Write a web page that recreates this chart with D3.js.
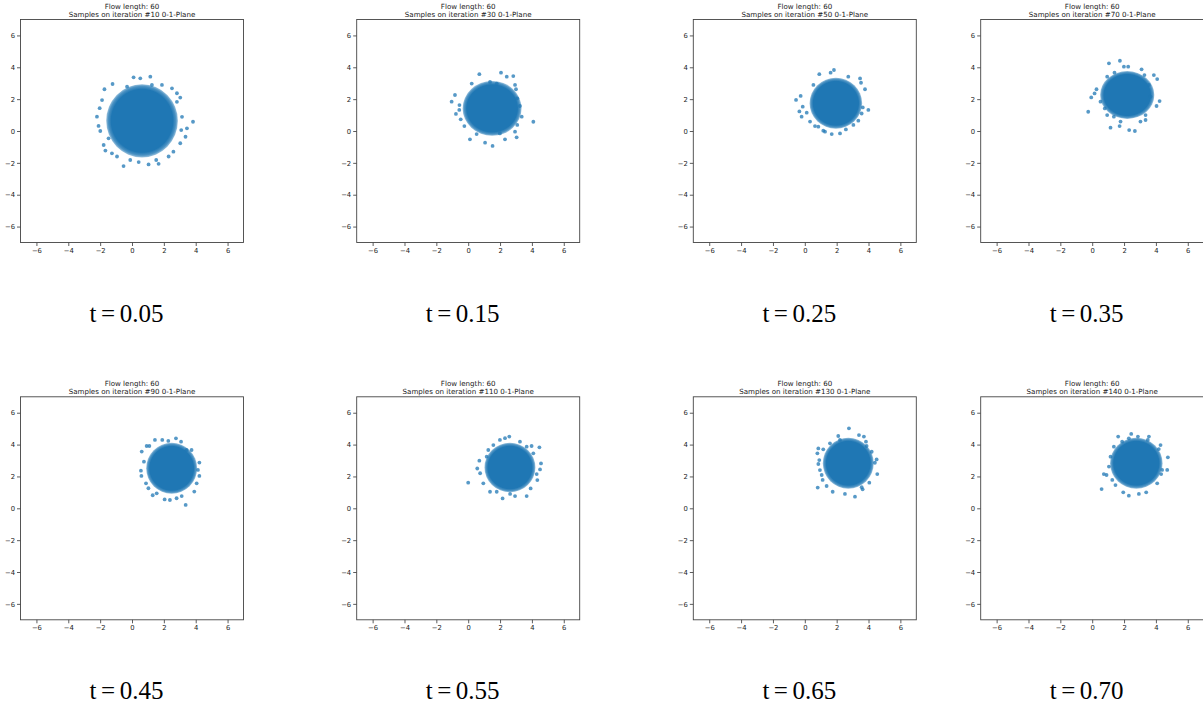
<!DOCTYPE html>
<html>
<head>
<meta charset="utf-8">
<script src="https://cdn.jsdelivr.net/npm/d3@7"></script>
<style>
  body { margin: 0; background: #fff; }
  svg { display: block; }
</style>
</head>
<body>
<div id="grafico"></div>
<script>
// valores
const flowLength = 60;
const iteraciones = [10, 30, 50, 70, 90, 110, 130, 140];
const tValores = ["0.05", "0.15", "0.25", "0.35", "0.45", "0.55", "0.65", "0.70"];
const ticks = [-6, -4, -2, 0, 2, 4, 6];
const dominio = [-7, 7];

// zona densa de cada nube (centro y radios exteriores, en unidades de datos)
const nucleoX = [0.63, 1.50, 1.95, 2.20, 2.49, 2.62, 2.73, 2.77];
const nucleoY = [0.64, 1.42, 1.74, 2.26, 2.51, 2.56, 2.83, 2.83];
const radioX  = [2.25, 1.85, 1.65, 1.70, 1.60, 1.60, 1.60, 1.65];
const radioY  = [2.30, 1.72, 1.60, 1.50, 1.60, 1.55, 1.60, 1.60];

// muestras sueltas del borde, leidas punto por punto
const muestras10 = [[-0.53,-2.2],[1.15,3.41],[0.1,3.37],[-1.22,2.95],[-1.73,2.62],[3.83,0.58],[-2.2,0.9],[-2.03,1.43],[-1.88,1.94],[3.36,-0.36],[3.09,0.06],[3.14,0.89],[1.67,-2.06],[1.04,-2.1],[0.42,-1.95],[-0.94,-1.6],[-1.67,-1.23],[-1.99,0.0],[-2.1,0.32],[2.51,2.68],[1.88,2.89],[2.82,1.83],[3.03,2.1],[2.3,-1.6],[2.6,-1.3],[3.45,0.17],[0.52,3.31],[-0.31,2.78],[-1.47,-0.46],[-1.78,-0.88],[-1.26,-1.4],[-0.11,-1.82],[1.52,-1.82],[3.03,-0.77],[2.82,2.37],[1.25,2.89]];
const muestras30 = [[4.09,0.58],[1.53,-0.94],[1.06,-0.73],[0.11,-0.52],[-1.04,1.84],[-0.83,2.26],[-0.77,1.07],[0.7,3.57],[2.06,3.66],[2.42,3.41],[2.83,3.45],[2.94,2.89],[3.0,2.62],[3.08,2.05],[3.25,1.57],[3.36,0.9],[3.08,0.38],[3.04,-0.4],[2.94,-0.04],[2.31,-0.52],[1.99,-0.15],[-0.24,0.31],[-0.47,0.73],[-0.56,1.32],[0.22,2.98],[1.37,3.08],[1.79,2.98],[0.53,-0.19],[-0.55,1.63]];
const muestras50 = [[-0.55,1.95],[-0.26,2.2],[-0.34,1.23],[-0.2,0.9],[0.12,1.15],[1.83,3.83],[1.62,3.66],[0.91,3.57],[2.73,3.41],[3.47,3.3],[3.53,3.03],[3.78,2.62],[3.99,1.32],[3.64,1.48],[3.57,1.1],[3.36,0.65],[3.05,0.38],[2.21,-0.15],[1.69,-0.19],[1.27,-0.04],[0.85,0.27],[0.64,0.31],[0.33,0.59],[1.16,0.02],[2.58,0.1],[-0.13,1.53],[0.54,2.89]];
const muestras70 = [[-0.25,1.21],[0.15,2.36],[-0.06,2.11],[0.27,2.62],[1.15,0.21],[1.72,0.31],[2.32,0.06],[2.68,0.0],[1.05,4.25],[1.74,4.41],[0.94,3.41],[1.4,3.66],[1.99,4.04],[2.26,4.04],[3.1,3.87],[3.28,3.51],[3.87,3.51],[4.08,3.26],[4.23,1.88],[4.04,1.57],[3.66,2.15],[3.35,0.69],[3.03,0.59],[1.78,0.59],[1.36,0.9],[0.94,1.0],[0.79,1.42],[0.52,1.84],[3.35,1.0],[3.56,2.89]];
const muestras90 = [[3.37,0.21],[2.05,0.56],[2.38,0.52],[2.8,0.63],[3.12,0.77],[3.91,1.05],[1.3,0.82],[1.55,0.94],[0.61,3.56],[1.09,3.91],[1.44,4.29],[1.9,4.29],[2.28,4.23],[2.76,4.39],[3.08,4.18],[3.43,3.66],[3.74,3.66],[4.23,2.87],[4.14,2.41],[4.23,2.03],[4.06,1.57],[0.56,2.36],[0.59,2.03],[0.75,2.93],[0.88,1.57],[1.03,1.26],[0.92,3.91]];
const muestras110 = [[0.0,1.61],[0.57,2.5],[0.7,2.99],[0.75,2.2],[0.95,1.57],[1.37,1.04],[2.16,0.62],[2.94,0.77],[3.67,0.77],[3.92,1.25],[4.34,1.77],[4.51,2.44],[4.57,2.82],[4.47,3.83],[4.09,3.45],[3.98,3.91],[3.67,3.87],[3.25,4.18],[2.58,4.5],[2.31,4.4],[1.99,4.29],[1.58,3.97],[1.26,3.66],[1.16,3.24],[4.3,2.15],[1.79,1.04],[2.63,0.9]];
const muestras130 = [[2.77,5.02],[3.4,4.6],[3.71,4.5],[2.1,4.54],[2.21,4.29],[1.58,4.08],[1.16,3.7],[0.85,3.76],[0.79,3.45],[0.91,3.03],[0.85,2.78],[0.95,2.4],[1.06,2.09],[1.12,1.78],[0.81,1.3],[1.37,1.4],[1.75,1.04],[2.52,0.9],[3.15,0.73],[3.63,1.19],[4.05,1.61],[4.55,2.15],[4.4,2.86],[4.51,3.07],[4.2,3.55],[3.84,4.18],[3.88,3.91],[3.57,1.32]];
const muestras140 = [[0.59,1.21],[0.73,2.15],[0.9,2.09],[1.95,1.0],[2.3,0.79],[2.93,0.9],[3.39,1.0],[1.63,4.5],[1.88,4.18],[2.45,4.67],[2.3,4.39],[2.87,4.5],[3.56,4.5],[3.49,4.29],[4.29,3.97],[4.18,3.72],[4.75,3.2],[4.71,2.41],[4.39,2.41],[4.33,2.15],[4.08,1.57],[1.15,3.24],[1.05,2.62],[1.26,1.78],[1.46,1.46],[1.36,3.87]];

const muestras = [muestras10, muestras30, muestras50, muestras70, muestras90, muestras110, muestras130, muestras140];

// disposicion de los paneles
const columnasX = [20.5, 356.7, 693.3, 980.7];
const filasY = [19.5, 396.8];
const lado = 223;
const azul = "#1f77b4";

const svg = d3.select("#grafico")
    .append("svg")
    .attr("width", 1203)
    .attr("height", 709);

svg.append("rect").attr("width", 1203).attr("height", 709).attr("fill", "#fff");

// borde difuso de la nube (muchos puntos solapados)
const grad = svg.append("defs").append("radialGradient").attr("id", "nube");
grad.append("stop").attr("offset", "0%").attr("stop-color", azul).attr("stop-opacity", 1);
grad.append("stop").attr("offset", "86%").attr("stop-color", azul).attr("stop-opacity", 1);
grad.append("stop").attr("offset", "94%").attr("stop-color", azul).attr("stop-opacity", 0.8);
grad.append("stop").attr("offset", "100%").attr("stop-color", azul).attr("stop-opacity", 0.45);

const x = d3.scaleLinear().domain(dominio).range([0, lado]);
const y = d3.scaleLinear().domain(dominio).range([lado, 0]);

iteraciones.forEach((it, i) => {
    const col = i % 4;
    const fila = Math.floor(i / 4);
    const g = svg.append("g")
        .attr("transform", `translate(${columnasX[col]}, ${filasY[fila]})`);

    // titulo
    const titulo = g.append("text")
        .attr("text-anchor", "middle")
        .attr("font-family", "DejaVu Sans")
        .attr("font-size", "7.1px")
        .attr("fill", "#1a1a1a");
    titulo.append("tspan").attr("x", lado / 2).attr("y", -10.5).text(`Flow length: ${flowLength}`);
    titulo.append("tspan").attr("x", lado / 2).attr("y", -2.5).text(`Samples on iteration #${it} 0-1-Plane`);

    // ejes
    const ejeX = g.append("g")
        .attr("transform", `translate(0, ${lado})`)
        .call(d3.axisBottom(x).tickValues(ticks).tickSize(3.5).tickPadding(2));
    const ejeY = g.append("g")
        .call(d3.axisLeft(y).tickValues(ticks).tickSize(3.5).tickPadding(2));
    [ejeX, ejeY].forEach(e => {
        e.select(".domain").remove();
        e.selectAll("line").attr("stroke", "#333").attr("stroke-width", 0.8);
        e.selectAll("text")
            .attr("font-family", "DejaVu Sans")
            .attr("font-size", "6.8px")
            .attr("fill", "#222");
    });

    // nube: zona densa + muestras sueltas
    const datosNube = g.append("g");
    datosNube.append("ellipse")
        .attr("cx", x(nucleoX[i]))
        .attr("cy", y(nucleoY[i]))
        .attr("rx", x(radioX[i]) - x(0))
        .attr("ry", y(0) - y(radioY[i]))
        .attr("fill", "url(#nube)");
    datosNube.selectAll("circle")
        .data(muestras[i])
        .enter()
        .append("circle")
        .attr("cx", d => x(d[0]))
        .attr("cy", d => y(d[1]))
        .attr("r", 1.9)
        .attr("fill", azul)
        .attr("opacity", 0.75);

    // marco
    g.append("rect")
        .attr("width", lado)
        .attr("height", lado)
        .attr("fill", "none")
        .attr("stroke", "#444")
        .attr("stroke-width", 0.9);

    // etiqueta t
    const etiqueta = g.append("text")
        .attr("x", 106)
        .attr("y", 302.5)
        .attr("text-anchor", "middle")
        .attr("font-family", "Liberation Serif")
        .attr("font-size", "25px")
        .attr("fill", "#000");
    etiqueta.append("tspan").text("t");
    etiqueta.append("tspan").attr("dx", 4.5).text("=");
    etiqueta.append("tspan").attr("dx", 4.5).text(tValores[i]);
});
</script>
</body>
</html>
